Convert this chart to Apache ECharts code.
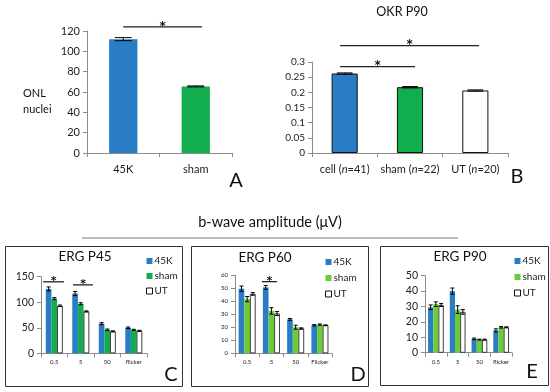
<!DOCTYPE html>
<html><head><meta charset="utf-8">
<script src="https://cdn.jsdelivr.net/npm/echarts@6/dist/echarts.min.js"></script>
<style>html,body{margin:0;padding:0;background:#fff}#c{width:550px;height:392px}</style>
</head><body><div id="c"></div>
<script>
// ---- data ----
const onlCats = ['45K', 'sham'];
const onlVals = [112, 65.5];
const onlErr = [1.5, 0.5];

const okrCats = ['cell (n=41)', 'sham (n=22)', 'UT (n=20)'];
const okrVals = [0.262, 0.217, 0.206];
const okrErr = [0.002, 0.002, 0.002];

const seriesNames = ['45K', 'sham', 'UT'];
const ergCatsC = ['0.5', '5', '50', 'flicker'];
const ergCatsD = ['0.5', '5', '50', 'Flicker'];
const ergCatsE = ['0.5', '5', '50', 'flicker'];

const p45_45K = [126, 117, 58, 50];
const p45_sham = [107, 97, 46, 46];
const p45_UT = [93, 82, 43, 44];
const p45_45K_err = [4, 4, 2, 1.5];
const p45_sham_err = [2, 2, 1.5, 1];
const p45_UT_err = [1.5, 1, 1, 1];

const p60_45K = [49.5, 50.5, 26, 21.5];
const p60_sham = [41.5, 32.5, 20, 22];
const p60_UT = [45.5, 30.5, 19, 21.5];
const p60_45K_err = [2, 1.5, 0.7, 0.5];
const p60_sham_err = [2, 2.5, 1.5, 0.5];
const p60_UT_err = [1, 1.5, 0.5, 0.3];

const p90_45K = [29.5, 40, 9, 14.5];
const p90_sham = [31.5, 28, 8.5, 16.5];
const p90_UT = [31, 26.5, 8.5, 16.5];
const p90_45K_err = [1.5, 2, 0.5, 1];
const p90_sham_err = [1.5, 2.5, 0.3, 0.5];
const p90_UT_err = [1, 1.5, 0.3, 0.3];

// significance bars: [cat1, offset1, cat2, offset2, yValue]
const sigA = [[0, 0, 1, 0.085, 124]];
const sigB = [[0, -0.07, 1, 0.077, 0.2845], [0, -0.07, 2, 0.057, 0.354]];
const sigC = [[0, -0.42, 0, 0.37, 140], [1, -0.29, 1, 0.46, 134]];
const sigD = [[1, -0.39, 1, 0.23, 54.9]];

// ---- styling ----
const FONT = 'Lato, "Liberation Sans", sans-serif';
const BLUE = '#2a7cc4';
const GREEN_A = '#12ad4c';
const GREEN_L = '#6acd36';
const AXC = '#8c8c8c';

function catAxis(gi, cats, fs, margin, extra) {
  return Object.assign({
    type: 'category', gridIndex: gi, data: cats,
    axisLine: {lineStyle: {color: AXC}},
    axisTick: {show: true, alignWithLabel: false, interval: 0, length: 4, lineStyle: {color: AXC}},
    axisLabel: {fontSize: fs, color: '#222', fontFamily: FONT, margin: margin, interval: 0, hideOverlap: false},
    splitLine: {show: false}
  }, extra || {});
}
function valAxis(gi, max, interval, fs) {
  return {
    type: 'value', gridIndex: gi, min: 0, max: max, interval: interval,
    axisLine: {show: true, lineStyle: {color: AXC}},
    axisTick: {show: true, length: 4, lineStyle: {color: AXC}},
    axisLabel: {fontSize: fs, color: '#222', fontFamily: FONT, margin: 7},
    splitLine: {show: false}
  };
}
function errSeries(gi, vals, errs, gap) {
  const n = vals.length;
  const data = [];
  for (let k = 0; k < n; k++)
    for (let i = 0; i < vals[k].length; i++)
      data.push([i, k, vals[k][i] - errs[k][i], vals[k][i] + errs[k][i]]);
  return {
    type: 'custom', xAxisIndex: gi, yAxisIndex: gi, data: data, z: 10, silent: true,
    renderItem: function (params, api) {
      const i = api.value(0), k = api.value(1);
      const band = api.size([1, 0])[0];
      const bw = band * (1 - gap) / n;
      const cx = api.coord([i, 0])[0] + (k - (n - 1) / 2) * bw;
      const y1 = api.coord([i, api.value(2)])[1];
      const y2 = api.coord([i, api.value(3)])[1];
      const hw = Math.max(bw * 0.3, 2);
      const st = {stroke: '#000', lineWidth: 1};
      return {type: 'group', children: [
        {type: 'line', shape: {x1: cx, y1: y1, x2: cx, y2: y2}, style: st},
        {type: 'line', shape: {x1: cx - hw, y1: y1, x2: cx + hw, y2: y1}, style: st},
        {type: 'line', shape: {x1: cx - hw, y1: y2, x2: cx + hw, y2: y2}, style: st}
      ]};
    }
  };
}
function sigSeries(gi, sigs, starSize) {
  return {
    type: 'custom', xAxisIndex: gi, yAxisIndex: gi, data: sigs, z: 11, silent: true,
    renderItem: function (params, api) {
      const band = api.size([1, 0])[0];
      const y = api.coord([0, api.value(4)])[1];
      const x1 = api.coord([api.value(0), 0])[0] + api.value(1) * band;
      const x2 = api.coord([api.value(2), 0])[0] + api.value(3) * band;
      return {type: 'group', children: [
        {type: 'line', shape: {x1: x1, y1: y, x2: x2, y2: y}, style: {stroke: '#222', lineWidth: 1.3}},
        {type: 'text', x: (x1 + x2) / 2, y: y - 0.5, style: {text: '*', fontSize: starSize, fontWeight: 'bold', fill: '#111', align: 'center', verticalAlign: 'middle', fontFamily: '"DejaVu Sans", sans-serif'}}
      ]};
    }
  };
}
function barSeries(gi, name, vals, color, gap, border) {
  return {
    type: 'bar', name: name, xAxisIndex: gi, yAxisIndex: gi, data: vals,
    barGap: '0%', barCategoryGap: gap,
    itemStyle: Object.assign({color: color}, border ? {borderColor: '#111', borderWidth: 0.8} : {}),
    silent: true
  };
}
function legendFor(left, top, green, gap) {
  return {
    left: left, top: top, orient: 'vertical', itemWidth: 6, itemHeight: 6, itemGap: gap,
    icon: 'rect', selectedMode: false,
    textStyle: {fontSize: 10, color: '#222', fontFamily: FONT, padding: [0, 0, 0, -3]},
    data: [
      {name: '45K', itemStyle: {color: BLUE}},
      {name: 'sham', itemStyle: {color: green}},
      {name: 'UT', itemStyle: {color: '#fff', borderColor: '#111', borderWidth: 1}}
    ]
  };
}
function txt(t, x, y, fs, extra) {
  return {type: 'text', x: x, y: y, silent: true,
    style: Object.assign({text: t, fontSize: fs, fill: '#111', fontFamily: FONT, align: 'center', verticalAlign: 'middle'}, extra || {})};
}

const chart = echarts.init(document.getElementById('c'), null, {renderer: 'canvas'});
const option = {
  animation: false,
  backgroundColor: '#fff',
  grid: [
    {left: 87, top: 31, width: 145, height: 122},
    {left: 312, top: 62, width: 196, height: 91},
    {left: 41, top: 276.7, width: 106, height: 76.6},
    {left: 235, top: 275, width: 97, height: 78.3},
    {left: 425, top: 275.7, width: 87, height: 77}
  ],
  xAxis: [
    catAxis(0, onlCats, 11, 11),
    catAxis(1, okrCats, 11, 11, {axisLabel: {fontSize: 11, color: '#222', fontFamily: FONT, margin: 11, interval: 0, hideOverlap: false,
      formatter: function (v) { return v.replace('n=', '{i|n}='); },
      rich: {i: {fontStyle: 'italic', fontSize: 11, fontFamily: FONT, color: '#222'}}}}),
    catAxis(2, ergCatsC, 6, 6),
    catAxis(3, ergCatsD, 6, 6),
    catAxis(4, ergCatsE, 6, 6)
  ],
  yAxis: [
    valAxis(0, 120, 20, 11),
    valAxis(1, 0.3, 0.05, 10),
    valAxis(2, 150, 50, 10.5),
    valAxis(3, 60, 10, 6),
    valAxis(4, 50, 10, 10.5)
  ],
  legend: [
    legendFor(141, 251, GREEN_A, 5),
    legendFor(320, 252, GREEN_L, 6),
    legendFor(509, 251, GREEN_L, 6)
  ],
  series: [
    {type: 'bar', xAxisIndex: 0, yAxisIndex: 0, barCategoryGap: '61%', silent: true,
      data: onlVals.map(function (v, i) { return {value: v, itemStyle: {color: [BLUE, GREEN_A][i]}}; })},
    errSeries(0, [onlVals], [onlErr], 0.61),
    sigSeries(0, sigA, 12),
    {type: 'bar', xAxisIndex: 1, yAxisIndex: 1, barCategoryGap: '60%', silent: true,
      data: okrVals.map(function (v, i) { return {value: v, itemStyle: {color: [BLUE, GREEN_A, '#fff'][i], borderColor: '#111', borderWidth: 1}}; })},
    errSeries(1, [okrVals], [okrErr], 0.60),
    sigSeries(1, sigB, 12),

    barSeries(2, '45K', p45_45K, BLUE, '36%'),
    barSeries(2, 'sham', p45_sham, GREEN_A, '36%'),
    barSeries(2, 'UT', p45_UT, '#fff', '36%', true),
    errSeries(2, [p45_45K, p45_sham, p45_UT], [p45_45K_err, p45_sham_err, p45_UT_err], 0.36),
    sigSeries(2, sigC, 11),

    barSeries(3, '45K', p60_45K, BLUE, '30%'),
    barSeries(3, 'sham', p60_sham, GREEN_L, '30%'),
    barSeries(3, 'UT', p60_UT, '#fff', '30%', true),
    errSeries(3, [p60_45K, p60_sham, p60_UT], [p60_45K_err, p60_sham_err, p60_UT_err], 0.30),
    sigSeries(3, sigD, 11),

    barSeries(4, '45K', p90_45K, BLUE, '28%'),
    barSeries(4, 'sham', p90_sham, GREEN_L, '28%'),
    barSeries(4, 'UT', p90_UT, '#fff', '28%', true),
    errSeries(4, [p90_45K, p90_sham, p90_UT], [p90_45K_err, p90_sham_err, p90_UT_err], 0.28)
  ],
  graphic: [
    txt('ONL\nnuclei', 23, 101, 11, {align: 'left', lineHeight: 16}),
    txt('A', 236, 181, 20),
    txt('OKR P90', 402, 12, 12.5),
    txt('B', 517, 177, 20),
    txt('b-wave amplitude (\u03bcV)', 270, 222, 14.5),
    {type: 'line', silent: true, shape: {x1: 82, y1: 238, x2: 458, y2: 238}, style: {stroke: '#a8a8a8', lineWidth: 1.3}},
    {type: 'rect', silent: true, shape: {x: 5.5, y: 246.5, width: 177, height: 140}, style: {fill: 'none', stroke: '#333', lineWidth: 1}},
    {type: 'rect', silent: true, shape: {x: 191.5, y: 246.5, width: 177, height: 140}, style: {fill: 'none', stroke: '#333', lineWidth: 1}},
    {type: 'rect', silent: true, shape: {x: 380.5, y: 246.5, width: 168, height: 139}, style: {fill: 'none', stroke: '#333', lineWidth: 1}},
    txt('ERG P45', 85, 257, 13.5),
    txt('ERG P60', 265, 258, 13.5),
    txt('ERG P90', 460, 257, 13.5),
    txt('C', 171, 375, 20),
    txt('D', 358, 375, 20),
    txt('E', 532, 372, 20)
  ]
};
chart.setOption(option);
</script>
</body></html>
